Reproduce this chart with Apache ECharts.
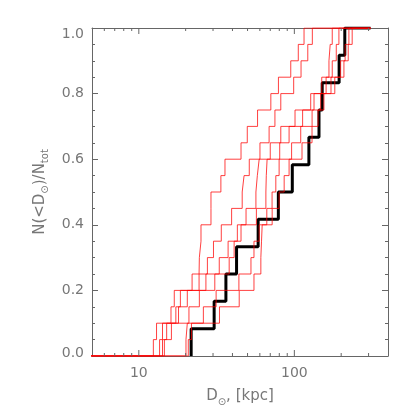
<!DOCTYPE html>
<html>
<head>
<meta charset="utf-8">
<script src="https://cdn.jsdelivr.net/npm/echarts@6/dist/echarts.min.js"></script>
<style>
  html, body { margin: 0; padding: 0; background: #fff; }
  #chart { width: 415px; height: 415px; }
</style>
</head>
<body>
<div id="chart"></div>
<script>
// distances (kpc) where each cumulative curve steps up one object
const blackSteps = [21.7, 30.5, 36.3, 42.5, 58.5, 78.9, 97, 124, 144, 151, 194, 211];
const redA = [12.4, 13.0, 16.1, 16.9, 24.4, 24.5, 25.1, 25.1, 29.1, 29.1, 33.7, 35.8, 45.4, 49.8, 58.0, 70.6, 79.0, 94.8, 106.0, 115.4];
const redB = [13.6, 14.2, 17.3, 18.5, 22.0, 27.6, 30.2, 33.9, 39.5, 46.2, 47.5, 51.3, 60.1, 68.8, 75.0, 81.8, 99.0, 110.4, 122.0, 130.5];
const redC = [14.2, 15.1, 18.0, 20.5, 27.0, 32.9, 37.5, 43.0, 48.9, 56.6, 57.8, 59.4, 70.0, 81.8, 101.0, 127.4, 150.0, 166.9, 170.0, 175.2];
const redD = [14.6, 16.2, 21.0, 24.5, 30.8, 38.1, 41.0, 45.4, 57.0, 65.6, 66.0, 66.8, 80.5, 92.5, 113.0, 133.8, 160.0, 175.2, 186.0, 193.4];
const redE = [20.1, 20.5, 26.0, 31.4, 44.0, 52.6, 55.0, 59.4, 66.5, 71.9, 76.0, 79.8, 96.0, 109.9, 130.0, 147.7, 172.0, 198.4, 212.0, 224.2];
const redF = [20.8, 21.8, 33.0, 44.2, 55.0, 60.9, 61.5, 62.1, 72.0, 79.8, 86.0, 92.5, 112.0, 129.9, 142.0, 155.0, 182.0, 208.3, 222.0, 235.4];
const redCurves = [redA, redB, redC, redD, redE, redF];
const xEnd = 309;          // all curves run flat at 1 out to here
const redStart = 3;        // red curves start off the left edge
const xMajorTicks = [10, 100];
const xMinorTicks = [6, 7, 8, 9, 20, 30, 40, 50, 60, 70, 80, 90, 200, 300];

const axisColor = '#666';
const textColor = '#777';
const font = 'DejaVu Sans';

function cumulative(steps, first) {
  const n = steps.length;
  const pts = [[first, 0]];
  steps.forEach((d, i) => pts.push([d, (i + 1) / n]));
  pts.push([xEnd, 1]);
  return pts;
}

const chart = echarts.init(document.getElementById('chart'), null, { renderer: 'canvas' });

const series = redCurves.map(c => ({
  type: 'line',
  step: 'end',
  data: cumulative(c, redStart),
  showSymbol: false,
  lineStyle: { color: '#ff0000', width: 1, opacity: 0.75 },
  z: 3
}));
series.push({
  type: 'line',
  step: 'end',
  data: cumulative(blackSteps, blackSteps[0]),
  showSymbol: false,
  lineStyle: { color: '#000', width: 3 },
  z: 2
});
// tick marks for the log axis, bottom and top
series.push({
  type: 'custom',
  silent: true,
  clip: false,
  z: 10,
  encode: { x: 0, y: 1 },
  data: xMajorTicks.map(v => [v, 1]).concat(xMinorTicks.map(v => [v, 0])),
  renderItem: function (params, api) {
    const v = api.value(0);
    const len = api.value(1) ? 6 : 3;
    const b = api.coord([v, 0]);
    const t = api.coord([v, 1]);
    return {
      type: 'group',
      children: [
        { type: 'line', shape: { x1: b[0], y1: b[1], x2: b[0], y2: b[1] - len }, style: { stroke: axisColor, lineWidth: 1 } },
        { type: 'line', shape: { x1: t[0], y1: t[1], x2: t[0], y2: t[1] + len }, style: { stroke: axisColor, lineWidth: 1 } }
      ]
    };
  }
});

const yAxisBase = {
  type: 'value',
  min: 0,
  max: 1,
  interval: 0.2,
  splitLine: { show: false },
  axisLine: { show: true, lineStyle: { color: axisColor, width: 1 } },
  axisTick: { show: true, inside: true, length: 6, lineStyle: { color: axisColor } },
  minorTick: { show: true, splitNumber: 4, length: 3, lineStyle: { color: axisColor } }
};

chart.setOption({
  animation: false,
  backgroundColor: '#fff',
  grid: { left: 92, right: 27, top: 28, bottom: 59 },
  xAxis: [{
    type: 'log',
    logBase: 10,
    min: 5,
    max: 400,
    position: 'bottom',
    splitLine: { show: false },
    axisLine: { show: true, onZero: false, lineStyle: { color: axisColor, width: 1 } },
    axisTick: { show: false },
    axisLabel: {
      margin: 10,
      color: textColor,
      fontFamily: font,
      fontSize: 14,
      showMinLabel: false,
      showMaxLabel: false,
      formatter: v => (xMajorTicks.indexOf(Math.round(v)) >= 0 ? String(Math.round(v)) : '')
    },
    name: '{n|D}{s|\u2299}{n|, [kpc]}',
    nameLocation: 'middle',
    nameGap: 28,
    nameTextStyle: {
      color: textColor,
      fontFamily: font,
      rich: {
        n: { fontSize: 15, color: textColor, fontFamily: font, lineHeight: 20, verticalAlign: 'bottom' },
        s: { fontSize: 10, color: textColor, fontFamily: font, lineHeight: 20, verticalAlign: 'bottom', padding: [0, 0, -3, 0] }
      }
    }
  }, {
    type: 'log',
    logBase: 10,
    min: 5,
    max: 400,
    position: 'top',
    splitLine: { show: false },
    axisLine: { show: true, onZero: false, lineStyle: { color: axisColor, width: 1 } },
    axisTick: { show: false },
    axisLabel: { show: false }
  }],
  yAxis: [Object.assign({}, yAxisBase, {
    position: 'left',
    axisLabel: {
      margin: 8,
      color: textColor,
      fontFamily: font,
      fontSize: 14,
      formatter: v => {
        const s = v.toFixed(1);
        if (v >= 0.999) return '{top|' + s + '}';
        if (v <= 0.001) return '{bot|' + s + '}';
        return s;
      },
      rich: {
        top: { fontSize: 14, color: textColor, fontFamily: font, padding: [12, 0, 0, 0] },
        bot: { fontSize: 14, color: textColor, fontFamily: font, padding: [0, 0, 6, 0] }
      }
    },
    name: '{n|N(<D}{s|\u2299}{n|)/N}{s|tot}',
    nameLocation: 'middle',
    nameRotate: 90,
    nameGap: 33,
    nameTextStyle: {
      color: textColor,
      fontFamily: font,
      rich: {
        n: { fontSize: 15, color: textColor, fontFamily: font, lineHeight: 20, verticalAlign: 'bottom' },
        s: { fontSize: 10, color: textColor, fontFamily: font, lineHeight: 20, verticalAlign: 'bottom', padding: [0, 0, -3, 0] }
      }
    }
  }), Object.assign({}, yAxisBase, {
    position: 'right',
    axisLabel: { show: false }
  })],
  series: series
});
</script>
</body>
</html>
